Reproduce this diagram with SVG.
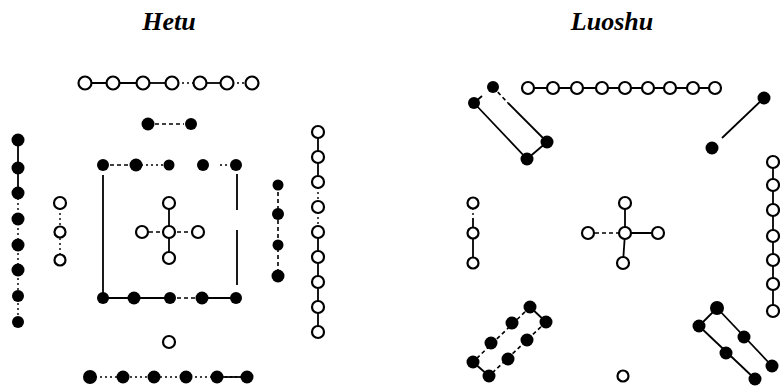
<svg xmlns="http://www.w3.org/2000/svg" width="780" height="386" viewBox="0 0 780 386">
<style>
.t{font-family:"Liberation Serif","Times New Roman",serif;font-weight:bold;font-style:italic;font-size:26px;fill:#000;text-anchor:middle}
.o{fill:#fff;stroke:#000;stroke-width:2.2}
.b{fill:#000}
.l{stroke:#000;stroke-width:1.8;fill:none}
.d{stroke:#000;stroke-width:1.6;fill:none;stroke-dasharray:4 3}
.p{stroke:#000;stroke-width:1.4;fill:none;stroke-dasharray:2 3}
</style>
<rect width="780" height="386" fill="#fff"/>
<text class="t" x="169" y="30">Hetu</text>
<text class="t" x="612" y="30">Luoshu</text>

<g id="connectors">
  <!-- Hetu -->
  <line class="l" x1="85" y1="83" x2="143" y2="83"/>
  <line class="l" x1="143" y1="83" x2="172" y2="83"/>
  <line class="p" x1="172" y1="83" x2="200" y2="83"/>
  <line class="l" x1="200" y1="83" x2="227" y2="83"/>
  <line class="p" x1="227" y1="83" x2="252" y2="83"/>
  <line class="d" x1="155" y1="124" x2="184" y2="124"/>
  <line class="d" x1="103" y1="165" x2="136" y2="165"/>
  <line class="p" x1="136" y1="165" x2="169" y2="165"/>
  <line class="p" x1="220" y1="165" x2="228" y2="165"/>
  <line class="l" x1="103" y1="175" x2="103" y2="298"/>
  <line class="l" x1="237" y1="174" x2="237" y2="210"/>
  <line class="l" x1="237" y1="230" x2="237" y2="285"/>
  <line class="l" x1="103" y1="298" x2="170" y2="298"/>
  <line class="d" x1="170" y1="298" x2="202" y2="298"/>
  <line class="l" x1="202" y1="298" x2="236" y2="298"/>
  <line class="l" x1="18" y1="140" x2="18" y2="193"/>
  <line class="p" x1="18" y1="193" x2="18" y2="322"/>
  <line class="p" x1="60" y1="203" x2="60" y2="260"/>
  <line class="l" x1="169" y1="203" x2="169" y2="258"/>
  <line class="d" x1="142" y1="232" x2="198" y2="232"/>
  <line class="d" x1="278" y1="185" x2="278" y2="276"/>
  <line class="l" x1="318" y1="132" x2="318" y2="182"/>
  <line class="p" x1="318" y1="182" x2="318" y2="232"/>
  <line class="l" x1="318" y1="232" x2="318" y2="332"/>
  <line class="p" x1="90" y1="377" x2="247" y2="377"/>
  <line class="l" x1="217" y1="377" x2="247" y2="377"/>
  <!-- Luoshu -->
  <line class="l" x1="528" y1="88" x2="715" y2="88"/>
  <line class="d" x1="493" y1="87" x2="508" y2="103"/>
  <line class="l" x1="508" y1="103" x2="547" y2="142"/>
  <line class="l" x1="474" y1="103" x2="527" y2="159"/>
  <line class="l" x1="527" y1="159" x2="547" y2="142"/>
  <line class="l" x1="474" y1="103" x2="482" y2="96"/>
  <line class="l" x1="764" y1="98" x2="722" y2="138"/>
  <line class="p" x1="473" y1="203" x2="473" y2="218"/>
  <line class="l" x1="473" y1="218" x2="473" y2="263"/>
  <line class="l" x1="625" y1="203" x2="625" y2="233"/>
  <line class="l" x1="625" y1="233" x2="623" y2="263"/>
  <line class="d" x1="588" y1="233" x2="625" y2="233"/>
  <line class="l" x1="625" y1="233" x2="658" y2="233"/>
  <line class="l" x1="773" y1="162" x2="773" y2="312"/>
  <line class="l" x1="530" y1="307" x2="546" y2="322"/>
  <line class="d" x1="530" y1="307" x2="473" y2="362"/>
  <line class="d" x1="546" y1="322" x2="489" y2="376"/>
  <line class="l" x1="473" y1="362" x2="489" y2="376"/>
  <line class="l" x1="717" y1="308" x2="772" y2="366"/>
  <line class="l" x1="699" y1="326" x2="755" y2="379"/>
  <line class="l" x1="717" y1="308" x2="699" y2="326"/>
</g>

<g id="hetu-top-7">
  <circle class="o" cx="85" cy="83" r="6.5"/><circle class="o" cx="113" cy="83" r="6.5"/><circle class="o" cx="143" cy="83" r="6.5"/><circle class="o" cx="172" cy="83" r="6.5"/><circle class="o" cx="200" cy="83" r="6.5"/><circle class="o" cx="227" cy="83" r="6.5"/><circle class="o" cx="252" cy="83" r="6.5"/>
</g>
<g id="hetu-top-2">
  <circle class="b" cx="148" cy="124" r="6.5"/><circle class="b" cx="191" cy="124" r="6"/>
</g>
<g id="hetu-center-10">
  <circle class="b" cx="103" cy="165" r="6"/><circle class="b" cx="136" cy="165" r="6.5"/><circle class="b" cx="169" cy="165" r="5.5"/><circle class="b" cx="203" cy="165" r="6"/><circle class="b" cx="236" cy="165" r="6"/>
  <circle class="b" cx="103" cy="298" r="6"/><circle class="b" cx="134" cy="298" r="6.5"/><circle class="b" cx="170" cy="298" r="6"/><circle class="b" cx="202" cy="298" r="6.5"/><circle class="b" cx="236" cy="298" r="6"/>
</g>
<g id="hetu-center-5">
  <circle class="o" cx="169" cy="203" r="6"/><circle class="o" cx="142" cy="232" r="6"/><circle class="o" cx="169" cy="232" r="6"/><circle class="o" cx="198" cy="232" r="6"/><circle class="o" cx="169" cy="258" r="6"/>
</g>
<g id="hetu-left-8">
  <circle class="b" cx="18" cy="140" r="6.5"/><circle class="b" cx="18" cy="168" r="6.5"/><circle class="b" cx="18" cy="193" r="6.5"/><circle class="b" cx="18" cy="219" r="6.5"/><circle class="b" cx="18" cy="245" r="6.5"/><circle class="b" cx="18" cy="270" r="6.5"/><circle class="b" cx="18" cy="296" r="6"/><circle class="b" cx="18" cy="322" r="6"/>
</g>
<g id="hetu-left-3">
  <circle class="o" cx="60" cy="203" r="6"/><circle class="o" cx="60" cy="232" r="5.5"/><circle class="o" cx="60" cy="260" r="5.5"/>
</g>
<g id="hetu-right-4">
  <circle class="b" cx="278" cy="185" r="5.5"/><circle class="b" cx="278" cy="214" r="6"/><circle class="b" cx="278" cy="245" r="5.5"/><circle class="b" cx="278" cy="276" r="6.5"/>
</g>
<g id="hetu-right-9">
  <circle class="o" cx="318" cy="132" r="6"/><circle class="o" cx="318" cy="157" r="6"/><circle class="o" cx="318" cy="182" r="6"/><circle class="o" cx="318" cy="207" r="6"/><circle class="o" cx="318" cy="232" r="6"/><circle class="o" cx="318" cy="257" r="6"/><circle class="o" cx="318" cy="282" r="6"/><circle class="o" cx="318" cy="307" r="6"/><circle class="o" cx="318" cy="332" r="6"/>
</g>
<g id="hetu-bottom-1">
  <circle class="o" cx="169" cy="342" r="6"/>
</g>
<g id="hetu-bottom-6">
  <circle class="b" cx="90" cy="377" r="7"/><circle class="b" cx="123" cy="377" r="6.5"/><circle class="b" cx="154" cy="377" r="6.5"/><circle class="b" cx="186" cy="377" r="6.5"/><circle class="b" cx="217" cy="377" r="6.5"/><circle class="b" cx="247" cy="377" r="6.5"/>
</g>

<g id="luoshu-top-9">
  <circle class="o" cx="528" cy="88" r="6"/><circle class="o" cx="553" cy="88" r="6"/><circle class="o" cx="577" cy="88" r="6"/><circle class="o" cx="602" cy="88" r="6"/><circle class="o" cx="625" cy="88" r="6"/><circle class="o" cx="648" cy="88" r="6"/><circle class="o" cx="670" cy="88" r="6"/><circle class="o" cx="693" cy="88" r="6"/><circle class="o" cx="715" cy="88" r="6"/>
</g>
<g id="luoshu-topleft-4">
  <circle class="b" cx="493" cy="87" r="6"/><circle class="b" cx="474" cy="103" r="6"/><circle class="b" cx="547" cy="142" r="6.5"/><circle class="b" cx="527" cy="159" r="6.5"/>
</g>
<g id="luoshu-topright-2">
  <circle class="b" cx="764" cy="98" r="6.5"/><circle class="b" cx="712" cy="148" r="6.5"/>
</g>
<g id="luoshu-left-3">
  <circle class="o" cx="473" cy="203" r="5.5"/><circle class="o" cx="473" cy="233" r="5.5"/><circle class="o" cx="473" cy="263" r="5.5"/>
</g>
<g id="luoshu-center-5">
  <circle class="o" cx="625" cy="203" r="6"/><circle class="o" cx="588" cy="233" r="6"/><circle class="o" cx="625" cy="233" r="6"/><circle class="o" cx="658" cy="233" r="6"/><circle class="o" cx="623" cy="263" r="6"/>
</g>
<g id="luoshu-right-7">
  <circle class="o" cx="773" cy="162" r="6"/><circle class="o" cx="773" cy="185" r="6"/><circle class="o" cx="773" cy="210" r="6"/><circle class="o" cx="773" cy="236" r="6"/><circle class="o" cx="773" cy="260" r="6"/><circle class="o" cx="773" cy="284" r="6"/><circle class="o" cx="773" cy="311" r="6"/>
</g>
<g id="luoshu-bottomleft-8">
  <circle class="b" cx="530" cy="307" r="6.5"/><circle class="b" cx="546" cy="322" r="6.5"/><circle class="b" cx="512" cy="323" r="6.5"/><circle class="b" cx="527" cy="340" r="6.5"/><circle class="b" cx="491" cy="343" r="6.5"/><circle class="b" cx="508" cy="359" r="6.5"/><circle class="b" cx="473" cy="362" r="6.5"/><circle class="b" cx="489" cy="376" r="6.5"/>
</g>
<g id="luoshu-bottomright-6">
  <circle class="b" cx="717" cy="308" r="7"/><circle class="b" cx="699" cy="326" r="6.5"/><circle class="b" cx="744" cy="337" r="6.5"/><circle class="b" cx="726" cy="353" r="6.5"/><circle class="b" cx="772" cy="366" r="6.5"/><circle class="b" cx="755" cy="379" r="6.5"/>
</g>
<g id="luoshu-bottom-1">
  <circle class="o" cx="623" cy="376" r="5.5"/>
</g>
</svg>
